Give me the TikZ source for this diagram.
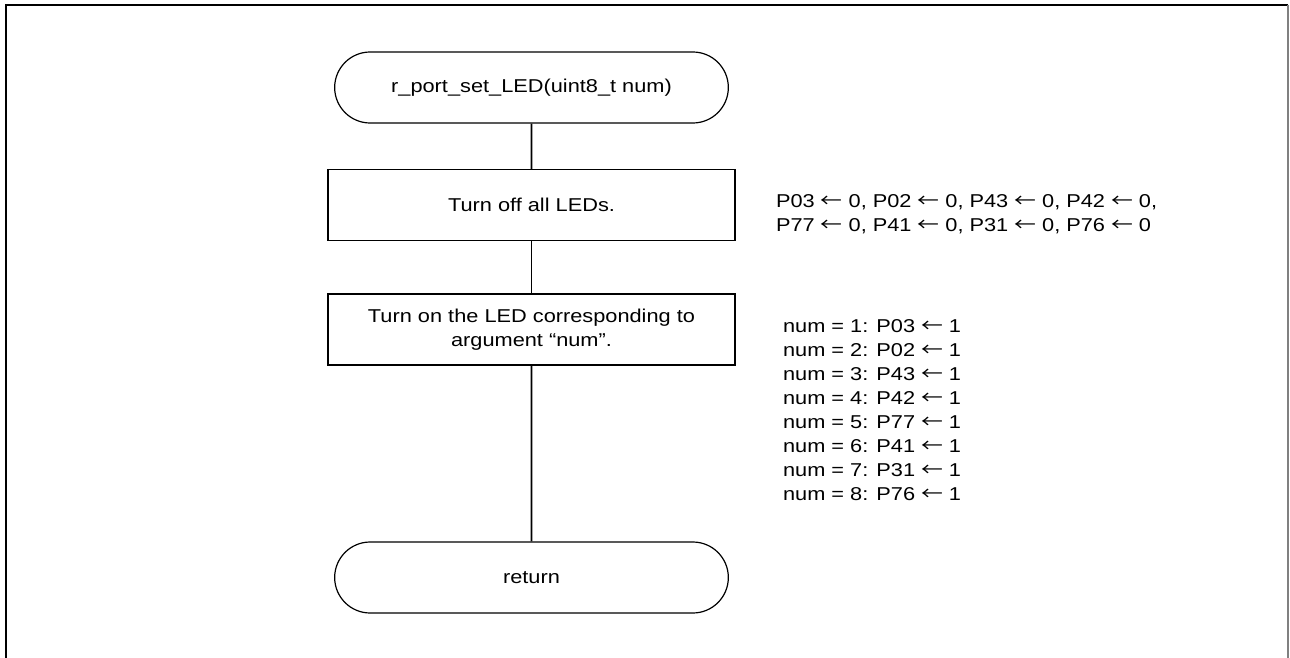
\documentclass[tikz,border=0pt]{standalone}
\usepackage{fontspec}
\setmainfont{Liberation Sans}[FakeStretch=1.17]
\newfontfamily\cjk{Noto Sans CJK JP}[FakeStretch=1.17]
\usetikzlibrary{shapes.misc}
\newcommand{\flowfont}{\fontsize{9.3}{12}\selectfont}
\newcommand{\getsto}{{\cjk ←}}
\tikzset{
  term/.style={draw, line width=0.6pt, rounded rectangle, minimum width=203.5pt, minimum height=35.5pt, font=\flowfont},
  proc/.style={draw, line width=0.6pt, rectangle, minimum width=203.5pt, minimum height=35.5pt, align=center, font=\flowfont},
  note/.style={anchor=west, align=left, font=\flowfont},
  flow/.style={line width=0.9pt}
}

\begin{document}
\begin{tikzpicture}[x=0.5pt, y=-0.5pt]
    \useasboundingbox (0,0) rectangle (1290,658);
    % outer frame
    \draw[line width=1pt] (6,658) -- (6,5) -- (1288,5);
    \draw[line width=1pt, gray] (1288,5) -- (1288,658);

    \node[term] (start) at (531.5,87.5) {r\_port\_set\_LED(uint8\_t num)};
    \node[proc] (ledoff) at (531.5,205) {Turn off all LEDs.};
    \node[proc] (ledon) at (531.5,329.5) {Turn on the LED corresponding to\\argument “num”.};
    \node[term] (ret) at (531.5,577.5) {return};

    \draw[flow] (start) -- (ledoff);
    \draw[flow] (ledoff) -- (ledon);
    \draw[flow] (ledon) -- (ret);

    \node[note] (offnote) at (769,214) {P03 \getsto{} 0, P02 \getsto{} 0, P43 \getsto{} 0, P42 \getsto{} 0,\\P77 \getsto{} 0, P41 \getsto{} 0, P31 \getsto{} 0, P76 \getsto{} 0};
    \node[note] (onnote) at (776,410) {num = 1: P03 \getsto{} 1\\num = 2: P02 \getsto{} 1\\num = 3: P43 \getsto{} 1\\num = 4: P42 \getsto{} 1\\num = 5: P77 \getsto{} 1\\num = 6: P41 \getsto{} 1\\num = 7: P31 \getsto{} 1\\num = 8: P76 \getsto{} 1};
\end{tikzpicture}
\end{document}
